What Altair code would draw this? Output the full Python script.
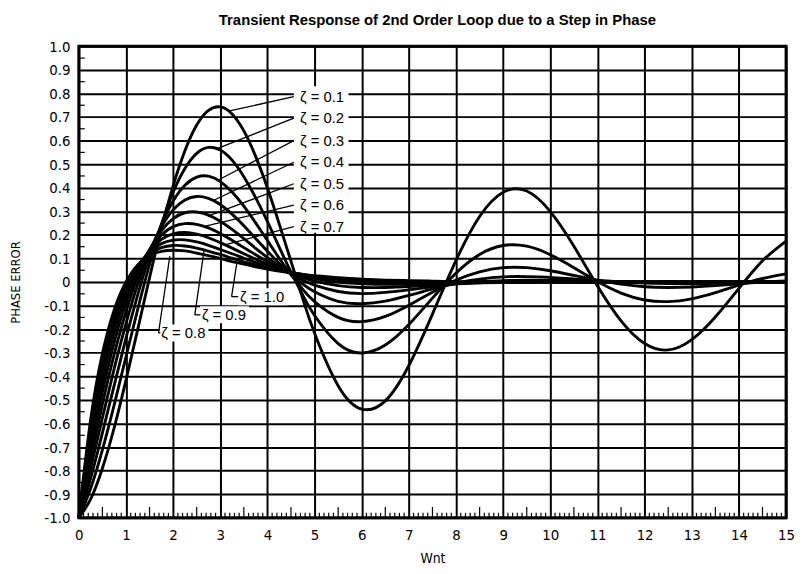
import altair as alt
import pandas as pd

# ---------------- data ----------------
wnt = [0, 0.25, 0.5, 0.75, 1, 1.25, 1.5, 1.75, 2, 2.25, 2.5, 2.75, 3, 3.25, 3.5, 3.75,
       4, 4.25, 4.5, 4.75, 5, 5.5, 6, 6.5, 7, 7.5, 8, 8.5, 9, 9.5, 10, 10.5, 11, 11.5,
       12, 12.5, 13, 13.5, 14, 14.5, 15]

zeta_01 = [-1.0, -0.921, -0.790, -0.618, -0.416, -0.200, 0.019, 0.226, 0.408, 0.557, 0.666,
           0.728, 0.743, 0.713, 0.641, 0.533, 0.399, 0.247, 0.088, -0.071, -0.217, -0.440,
           -0.539, -0.504, -0.354, -0.136, 0.092, 0.278, 0.381, 0.386, 0.299, 0.152, -0.017,
           -0.165, -0.261, -0.288, -0.244, -0.148, -0.027, 0.090, 0.174]
zeta_02 = [-1.0, -0.876, -0.712, -0.521, -0.317, -0.115, 0.076, 0.243, 0.381, 0.482, 0.546,
           0.571, 0.560, 0.517, 0.447, 0.358, 0.256, 0.148, 0.042, -0.056, -0.142, -0.261,
           -0.301, -0.267, -0.180, -0.068, 0.038, 0.117, 0.155, 0.152, 0.116, 0.061, 0.002,
           -0.047, -0.076, -0.083, -0.071, -0.045, -0.013, 0.015, 0.035]
zeta_03 = [-1.0, -0.833, -0.640, -0.438, -0.238, -0.053, 0.110, 0.243, 0.344, 0.411, 0.445,
           0.449, 0.426, 0.382, 0.322, 0.251, 0.176, 0.101, 0.031, -0.031, -0.083, -0.150,
           -0.168, -0.146, -0.098, -0.043, 0.008, 0.043, 0.061, 0.061, 0.048, 0.028, 0.008,
           -0.009, -0.020, -0.023, -0.021, -0.015, -0.007, 0.000, 0.005]
zeta_04 = [-1.0, -0.792, -0.576, -0.367, -0.176, -0.009, 0.128, 0.233, 0.306, 0.348, 0.363,
           0.355, 0.329, 0.288, 0.239, 0.185, 0.131, 0.079, 0.032, -0.009, -0.041, -0.082,
           -0.092, -0.081, -0.057, -0.029, -0.005, 0.012, 0.022, 0.023, 0.020, 0.013, 0.007,
           0.001, -0.004, -0.006, -0.006, -0.005, -0.002, -0.001, 0.001]
zeta_05 = [-1.0, -0.752, -0.518, -0.307, -0.126, 0.022, 0.136, 0.217, 0.269, 0.294, 0.297,
           0.284, 0.258, 0.223, 0.184, 0.143, 0.104, 0.067, 0.035, 0.008, -0.013, -0.040,
           -0.049, -0.044, -0.033, -0.020, -0.008, 0.001, 0.006, 0.008, 0.008, 0.006, 0.004,
           0.002, 0.000, -0.001, -0.001, -0.001, -0.001, 0.000, 0.000]
zeta_06 = [-1.0, -0.715, -0.466, -0.256, -0.087, 0.043, 0.137, 0.199, 0.235, 0.248, 0.245,
           0.230, 0.206, 0.177, 0.146, 0.116, 0.087, 0.061, 0.038, 0.019, 0.004, -0.015,
           -0.023, -0.023, -0.019, -0.013, -0.008, -0.003, 0.000, 0.002, 0.002, 0.002, 0.001,
           0.001, 0.000, 0.000, 0.000, 0.000, 0.000, 0.000, 0.000]
zeta_07 = [-1.0, -0.680, -0.419, -0.213, -0.056, 0.057, 0.133, 0.181, 0.204, 0.210, 0.203,
           0.188, 0.167, 0.144, 0.120, 0.097, 0.075, 0.056, 0.040, 0.026, 0.015, 0.000,
           -0.007, -0.010, -0.009, -0.007, -0.005, -0.003, -0.002, -0.001, 0.000, 0.000, 0.000,
           0.000, 0.000, 0.000, 0.000, 0.000, 0.000, 0.000, 0.000]
zeta_08 = [-1.0, -0.646, -0.376, -0.176, -0.033, 0.065, 0.127, 0.163, 0.178, 0.179, 0.170,
           0.156, 0.138, 0.120, 0.101, 0.083, 0.067, 0.053, 0.040, 0.030, 0.022, 0.010,
           0.003, -0.001, -0.003, -0.003, -0.002, -0.002, -0.001, -0.001, 0.000, 0.000, 0.000,
           0.000, 0.000, 0.000, 0.000, 0.000, 0.000, 0.000, 0.000]
zeta_09 = [-1.0, -0.615, -0.338, -0.145, -0.014, 0.070, 0.120, 0.146, 0.155, 0.153, 0.144,
           0.131, 0.117, 0.101, 0.086, 0.073, 0.060, 0.049, 0.040, 0.032, 0.025, 0.015,
           0.009, 0.005, 0.002, 0.001, 0.000, 0.000, 0.000, 0.000, 0.000, 0.000, 0.000,
           0.000, 0.000, 0.000, 0.000, 0.000, 0.000, 0.000, 0.000]
zeta_10 = [-1.0, -0.584, -0.303, -0.118, 0.000, 0.072, 0.112, 0.130, 0.135, 0.132, 0.123,
           0.112, 0.100, 0.087, 0.076, 0.065, 0.055, 0.046, 0.039, 0.032, 0.027, 0.018,
           0.012, 0.008, 0.006, 0.004, 0.002, 0.002, 0.001, 0.001, 0.000, 0.000, 0.000,
           0.000, 0.000, 0.000, 0.000, 0.000, 0.000, 0.000, 0.000]

zeta_names = ["0.1", "0.2", "0.3", "0.4", "0.5", "0.6", "0.7", "0.8", "0.9", "1.0"]
series = [zeta_01, zeta_02, zeta_03, zeta_04, zeta_05, zeta_06, zeta_07, zeta_08, zeta_09, zeta_10]

x_ticks = list(range(0, 16))
y_ticks = [round(-1.0 + 0.1 * i, 1) for i in range(21)]

title_text = "Transient Response of 2nd Order Loop due to a Step in Phase"

# ---------------- annotation placement (data units) ----------------
upper_names = ["0.1", "0.2", "0.3", "0.4", "0.5", "0.6", "0.7"]
upper_text_x = 4.69
upper_leader_end_x = 4.56
upper_text_y = [0.786, 0.695, 0.600, 0.508, 0.417, 0.326, 0.235]
upper_from_x = [3.17, 2.92, 2.95, 2.85, 2.74, 2.64, 3.10]
upper_from_y = [0.725, 0.565, 0.432, 0.346, 0.280, 0.235, 0.158]

lower_names = ["0.8", "0.9", "1.0"]
lower_text_x = [1.75, 2.61, 3.42]
lower_text_y = [-0.216, -0.139, -0.062]
lower_from_x = [1.93, 2.66, 3.35]
lower_from_y = [0.11, 0.14, 0.079]
lower_corner_x = [1.69, 2.46, 3.24]
lower_foot_x = [1.73, 2.58, 3.38]

# ---------------- tables ----------------
rows = []
for name, vals in zip(zeta_names, series):
    for t, v in zip(wnt, vals):
        rows.append({"wnt": t, "err": v, "zeta": name})
curves = pd.DataFrame(rows)

seg = []
for i, n in enumerate(upper_names):
    seg.append({"wnt": upper_from_x[i], "err": upper_from_y[i],
                "wnt2": upper_leader_end_x, "err2": upper_text_y[i]})
for i, n in enumerate(lower_names):
    seg.append({"wnt": lower_from_x[i], "err": lower_from_y[i],
                "wnt2": lower_corner_x[i], "err2": lower_text_y[i]})
    seg.append({"wnt": lower_corner_x[i], "err": lower_text_y[i],
                "wnt2": lower_foot_x[i], "err2": lower_text_y[i]})
leaders = pd.DataFrame(seg)

labels = pd.DataFrame(
    [{"wnt": upper_text_x, "err": y, "txt": "ζ = " + n} for n, y in zip(upper_names, upper_text_y)]
    + [{"wnt": x, "err": y, "txt": "ζ = " + n} for n, x, y in zip(lower_names, lower_text_x, lower_text_y)]
)

boxes = pd.DataFrame(
    [{"wnt": upper_leader_end_x, "wnt2": 5.72, "err": 0.209, "err2": 0.83}]
    + [{"wnt": x - 0.04, "wnt2": x + 1.0, "err": y - 0.036, "err2": y + 0.036}
       for x, y in zip(lower_text_x, lower_text_y)]
)

minor_x = pd.DataFrame({"wnt": [round(i * 0.1, 1) for i in range(151) if i % 10 != 0 and i % 5 != 0]})
mid_x = pd.DataFrame({"wnt": [i + 0.5 for i in range(15)]})
minor_y = pd.DataFrame({"err": [round(-0.95 + 0.1 * i, 2) for i in range(20)]})

# ---------------- chart ----------------
W, H = 714, 476
LABEL_FONT = "Liberation Sans Narrow, DejaVu Sans Condensed, Arial Narrow, sans-serif"
TEXT_FONT = "Liberation Sans, Arial, Helvetica, sans-serif"

xscale = alt.Scale(domain=[0, 15], nice=False, zero=False)
yscale = alt.Scale(domain=[-1, 1], nice=False, zero=False)

xaxis = alt.Axis(values=x_ticks, grid=True, gridColor="black", gridWidth=2, gridOpacity=1,
                 domain=False, ticks=False, labelFont=LABEL_FONT, labelFontSize=15,
                 labelColor="black", labelPadding=10, labelFlush=False, format="d",
                 title="Wnt", titleFont=LABEL_FONT, titleFontSize=14, titleFontWeight="normal",
                 titleColor="black", titleX=W / 2, titleY=45, titleBaseline="alphabetic",
                 titleAlign="center", labelOverlap=False)
yaxis = alt.Axis(values=y_ticks, grid=True, gridColor="black", gridWidth=2, gridOpacity=1,
                 domain=False, ticks=False, labelFont=LABEL_FONT, labelFontSize=15,
                 labelColor="black", labelPadding=9, labelFlush=False, labelOverlap=False,
                 labelExpr="abs(datum.value) < 0.001 ? '0' : replace(format(datum.value, '.1f'), '\u2212', '-')",
                 title="PHASE ERROR", titleFont=LABEL_FONT, titleFontSize=13,
                 titleFontWeight="normal", titleColor="black", titleAngle=-90,
                 titleX=-64, titleY=H / 2, titleAlign="center", titleBaseline="middle")


def X(field="wnt"):
    return alt.X(field, type="quantitative", scale=xscale, axis=xaxis)


def Y(field="err"):
    return alt.Y(field, type="quantitative", scale=yscale, axis=yaxis)


lines = alt.Chart(curves).mark_line(color="black", strokeWidth=2.9, interpolate="natural").encode(
    x=X(), y=Y(), detail="zeta:N"
)

box_layer = alt.Chart(boxes).mark_rect(color="white", opacity=1).encode(
    x=X(), x2="wnt2", y=Y(), y2="err2"
)

leader_layer = alt.Chart(leaders).mark_rule(color="black", strokeWidth=1.3).encode(
    x=X(), x2="wnt2", y=Y(), y2="err2"
)

label_layer = alt.Chart(labels).mark_text(
    align="left", baseline="middle", font=TEXT_FONT, fontSize=15, color="black"
).encode(x=X(), y=Y(), text="txt:N")

minor_x_layer = alt.Chart(minor_x).mark_rule(color="black", strokeWidth=1.2).encode(
    x=X(), y=alt.value(H), y2=alt.value(H - 5)
)
mid_x_layer = alt.Chart(mid_x).mark_rule(color="black", strokeWidth=1.2).encode(
    x=X(), y=alt.value(H), y2=alt.value(H - 11)
)
minor_y_layer = alt.Chart(minor_y).mark_rule(color="black", strokeWidth=1.2).encode(
    y=Y(), x=alt.value(0), x2=alt.value(6)
)

title_layer = alt.Chart(pd.DataFrame({"txt": [title_text]})).mark_text(
    align="center", baseline="middle", font="Liberation Sans, Arial, sans-serif",
    fontSize=15, fontWeight="bold", color="black"
).encode(text="txt:N", x=alt.value(W / 2 + 5), y=alt.value(-26))

chart = alt.layer(
    minor_x_layer, mid_x_layer, minor_y_layer, lines, box_layer, leader_layer, label_layer, title_layer
).properties(
    width=W, height=H,
    padding={"left": 71.5, "top": 36, "right": 9, "bottom": 46},
    autosize=alt.AutoSizeParams(type="none"),
    background="white",
).configure_view(stroke="black", strokeWidth=3)

chart.save("out.html", embed_options={"renderer": "svg", "actions": False})
